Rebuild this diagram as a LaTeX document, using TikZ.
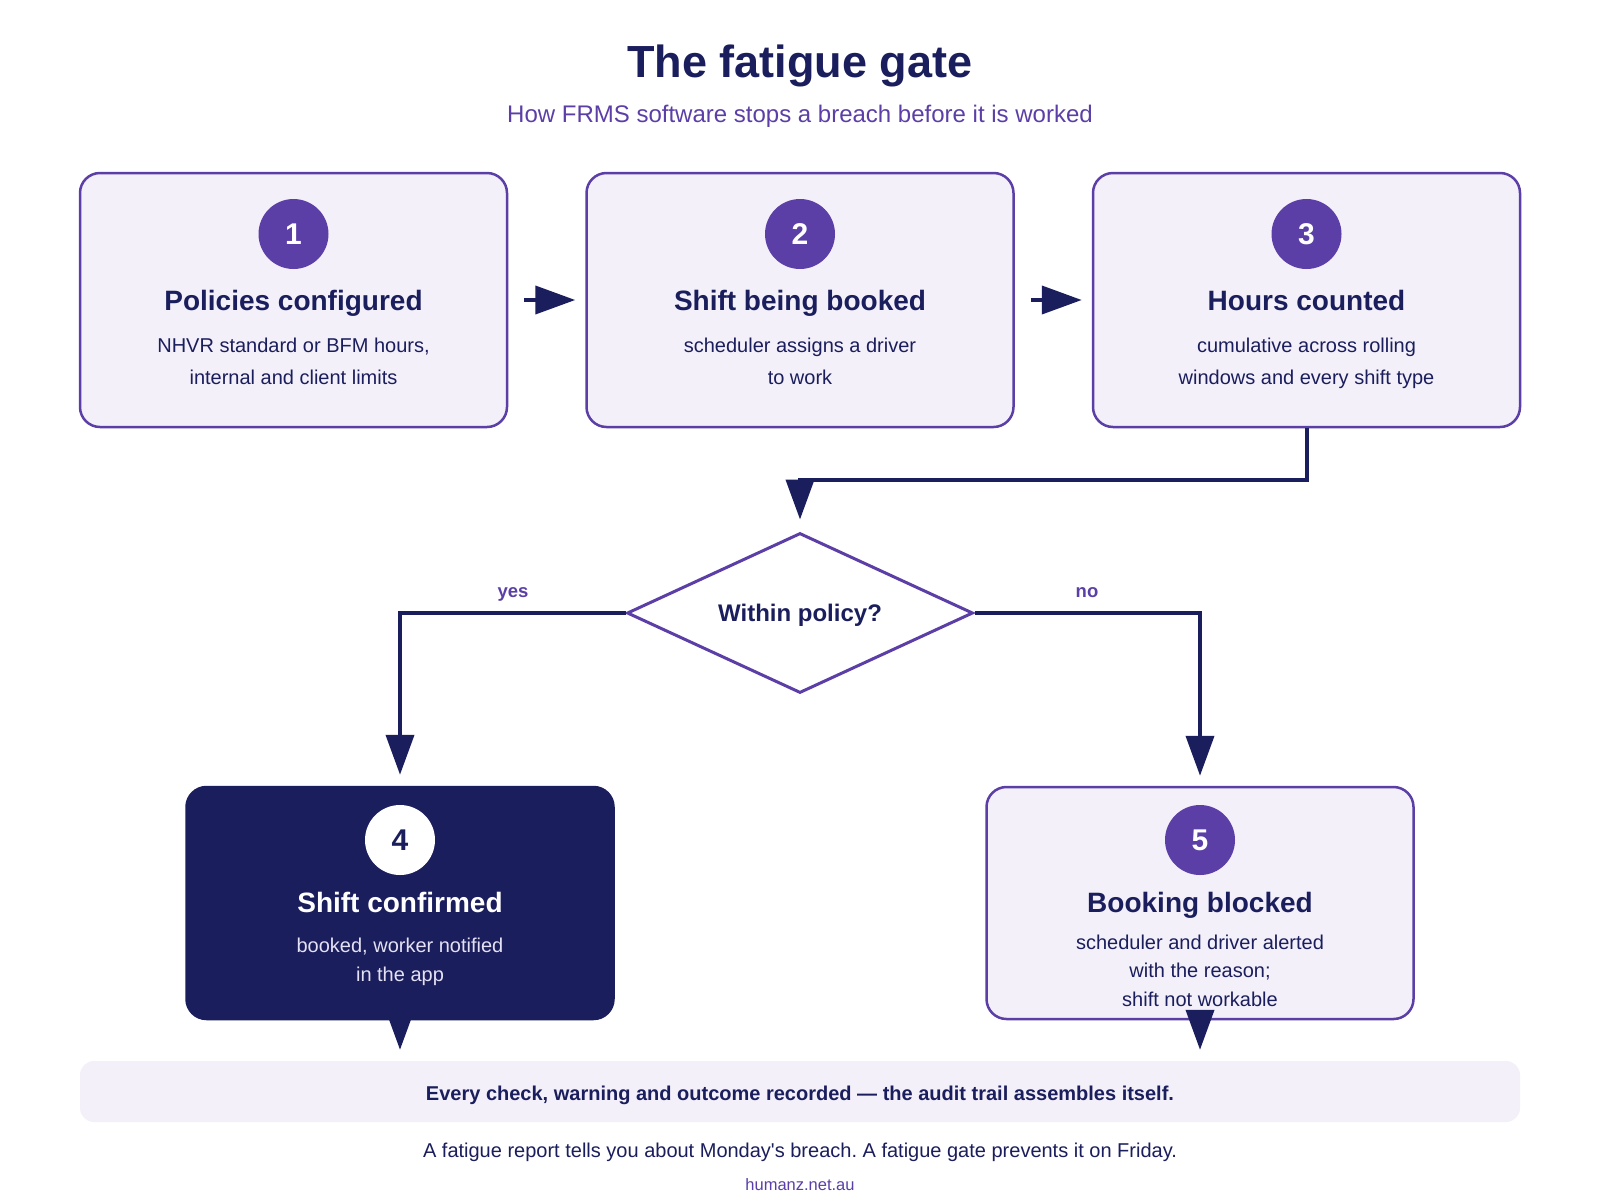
\documentclass[tikz,border=0pt]{standalone}
\usepackage{fontspec}
\setmainfont{Liberation Sans}
\usetikzlibrary{arrows.meta,shapes.geometric,calc}
\definecolor{navy}{HTML}{1B1E5C}
\definecolor{purp}{HTML}{5B3FA6}
\definecolor{lav}{HTML}{F3F0FA}
\definecolor{pale}{HTML}{E4E1F4}
\frenchspacing
\begin{document}
\begin{tikzpicture}[x=1pt,y=-1pt,
 card/.style={rectangle, rounded corners=20pt, minimum width=427pt, minimum height=254pt, draw=purp, line width=2.5pt, fill=lav, inner sep=0pt},
 lightcard/.style={card, minimum height=232pt},
 darkcard/.style={card, fill=navy, draw=navy, minimum height=232pt},
 badge/.style={circle, minimum size=70pt, inner sep=0pt, fill=purp, text=white, font=\fontsize{30}{36}\selectfont\bfseries},
 badgew/.style={badge, fill=white, text=navy},
 heading/.style={text=navy, font=\fontsize{28}{34}\selectfont\bfseries, inner sep=0pt, text height=20pt, text depth=0pt},
 desc/.style={text=navy, font=\fontsize{20}{32.5}\selectfont, align=center, inner sep=0pt},
 conn/.style={draw=navy, line width=4pt, -{Triangle[length=40pt,width=28pt]}},
 lbl/.style={text=purp, font=\fontsize{18.5}{22}\selectfont\bfseries, inner sep=0pt, text height=9.5pt, text depth=0pt}
]
\useasboundingbox[fill=white] (0,0) rectangle (1600,1200);

% title
\node[text=navy, font=\fontsize{45}{54}\selectfont\bfseries, inner sep=0pt, text height=32pt, text depth=0pt] (title) at (800,61) {The fatigue gate};
\node[text=purp, font=\fontsize{24}{29}\selectfont, inner sep=0pt, text height=17pt, text depth=0pt] (subtitle) at (800,114) {How FRMS software stops a breach before it is worked};

% top row
\node[card] (b1) at (293.5,300) {};
\node[card] (b2) at (800,300) {};
\node[card] (b3) at (1306.5,300) {};

\node[badge] (n1) at (293.5,234) {1};
\node[badge] (n2) at (800,234) {2};
\node[badge] (n3) at (1306.5,234) {3};

\node[heading] (h1) at (293.5,300) {Policies configured};
\node[heading] (h2) at (800,300) {Shift being booked};
\node[heading] (h3) at (1306.5,300) {Hours counted};

\node[desc] (t1) at (293.5,361.5) {NHVR standard or BFM hours,\\internal and client limits};
\node[desc] (t2) at (800,361.5) {scheduler assigns a driver\\to work};
\node[desc] (t3) at (1306.5,363.5) {cumulative across rolling\\windows and every shift type};

% decision
\node[diamond, aspect=2.1625, minimum width=346pt, minimum height=160pt, draw=purp, line width=3pt, fill=white, inner sep=0pt, text=navy, font=\fontsize{24}{29}\selectfont\bfseries, text height=17pt, text depth=0pt] (d) at (800,613) {Within policy?};

% outcomes
\node[darkcard] (b4) at (400,903) {};
\node[lightcard] (b5) at (1200,903) {};

\node[badgew] (n4) at (400,840) {4};
\node[badge] (n5) at (1200,840) {5};

\node[heading, text=white] (h4) at (400,902) {Shift confirmed};
\node[heading] (h5) at (1200,902) {Booking blocked};

\node[desc, text=pale, font=\fontsize{20}{29.5}\selectfont] (t4) at (400,962) {booked, worker notified\\in the app};
\node[desc, font=\fontsize{20}{28.5}\selectfont] (t5) at (1200,970.5) {scheduler and driver alerted\\with the reason;\\shift not workable};

% audit band
\node[rectangle, rounded corners=14pt, fill=lav, minimum width=1440pt, minimum height=61pt, inner sep=0pt, text=navy, font=\fontsize{20}{24}\selectfont\bfseries, text height=17pt, text depth=0pt] (band) at (800,1091.5) {Every check, warning and outcome recorded — the audit trail assembles itself.};

\node[text=navy, font=\fontsize{20}{24}\selectfont, inner sep=0pt, text height=14pt, text depth=0pt] (foot) at (800,1150) {A fatigue report tells you about Monday\textquotesingle s breach. A fatigue gate prevents it on Friday.};
\node[text=purp, font=\fontsize{16.5}{20}\selectfont, inner sep=0pt, text height=12pt, text depth=0pt] (site) at (800,1184) {humanz.net.au};

% connectors
\draw[conn, shorten <=16pt, shorten >=10pt] (b1.east) -- (b2.west);
\draw[conn, shorten <=16pt, shorten >=10pt] (b2.east) -- (b3.west);
\draw[conn, shorten >=12pt] (b3.south) -- (b3.south |- 0,480) -| (d.north);
\draw[conn, shorten >=11pt] (d.west) -| (b4.north);
\draw[conn, shorten >=10pt] (d.east) -| (b5.north);
\draw[conn, shorten >=11pt] (b4.south) -- (b4.south |- band.north);
\draw[conn, shorten >=11pt] (b5.south) -- (b5.south |- band.north);

\node[lbl] (yes) at (513,593) {yes};
\node[lbl] (no) at (1087,593) {no};
\end{tikzpicture}
\end{document}
